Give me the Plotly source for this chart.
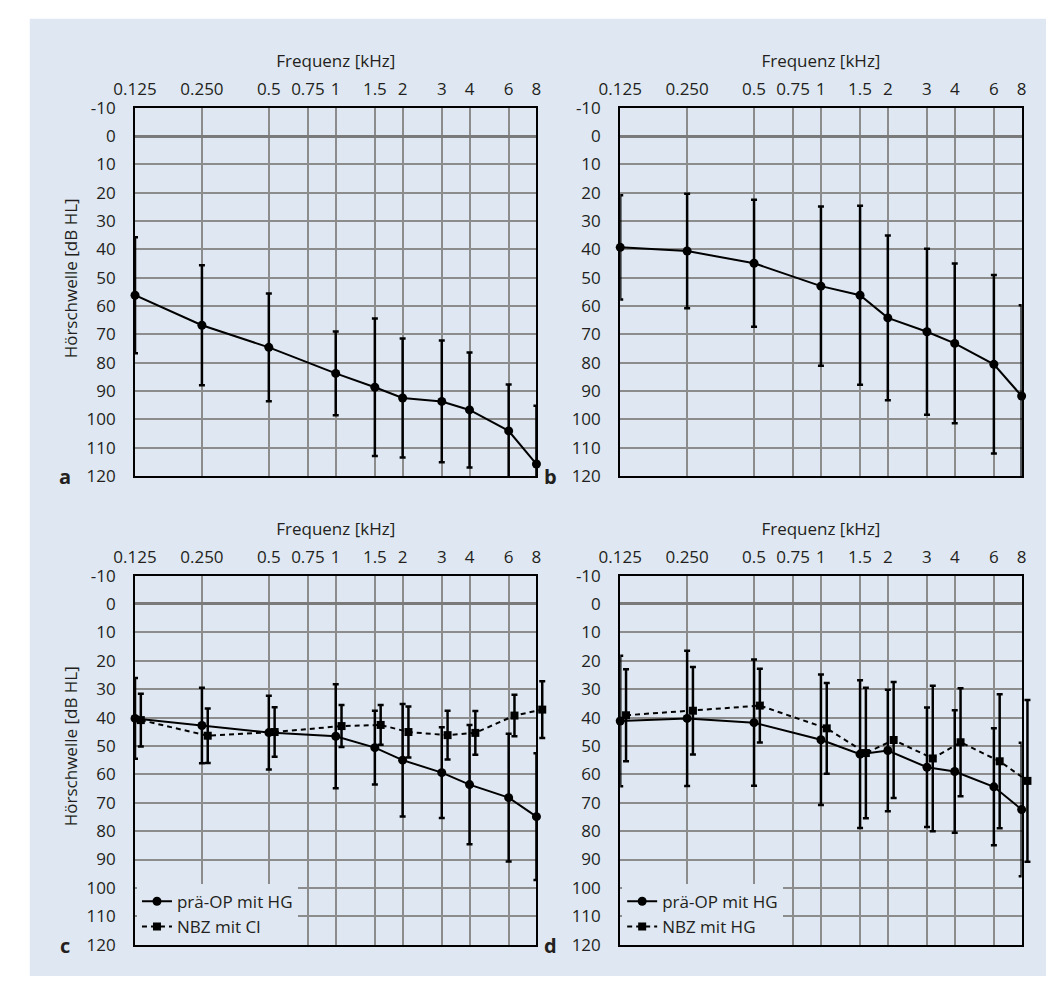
import math
import plotly.graph_objects as go

# ---------------- data ----------------
freqs = [0.125, 0.25, 0.5, 1, 1.5, 2, 3, 4, 6, 8]
tick_vals = [0.125, 0.25, 0.5, 0.75, 1, 1.5, 2, 3, 4, 6, 8]
tick_text = ["0.125", "0.250", "0.5", "0.75", "1", "1.5", "2", "3", "4", "6", "8"]
y_ticks = list(range(-10, 121, 10))
y_tick_text = [str(v) for v in y_ticks]

a_mean = [56.2, 66.8, 74.6, 83.8, 88.7, 92.5, 93.7, 96.7, 104.1, 115.8]
a_sd = [20.5, 21.2, 19.0, 14.8, 24.3, 21.0, 21.5, 20.3, 16.4, 20.6]

b_mean = [39.3, 40.6, 44.9, 53.0, 56.2, 64.2, 69.1, 73.2, 80.6, 91.8]
b_sd = [18.4, 20.2, 22.4, 28.1, 31.6, 29.1, 29.3, 28.2, 31.5, 32.1]

c_pre_mean = [40.3, 42.8, 45.3, 46.6, 50.6, 55.0, 59.4, 63.6, 68.2, 74.9]
c_pre_sd = [14.2, 13.3, 13.0, 18.3, 13.0, 19.8, 16.0, 21.0, 22.5, 22.3]
c_nbz_mean = [40.9, 46.4, 45.1, 43.0, 42.6, 45.1, 46.2, 45.4, 39.3, 37.2]
c_nbz_sd = [9.3, 9.6, 8.7, 7.4, 7.0, 9.0, 8.6, 7.7, 7.3, 10.0]

d_pre_mean = [41.2, 40.3, 41.8, 47.8, 52.9, 51.6, 57.5, 59.0, 64.4, 72.4]
d_pre_sd = [23.0, 23.8, 22.2, 23.0, 26.0, 21.4, 21.0, 21.6, 20.6, 23.5]
d_nbz_mean = [39.2, 37.6, 35.8, 43.8, 52.5, 47.9, 54.4, 48.7, 55.4, 62.3]
d_nbz_sd = [16.2, 15.4, 13.0, 16.0, 23.0, 20.4, 25.6, 19.0, 23.6, 28.5]

pre_name = "prä-OP mit HG"
c_nbz_name = "NBZ mit CI"
d_nbz_name = "NBZ mit HG"
x_title = "Frequenz [kHz]"
y_title = "Hörschwelle [dB HL]"
panel_letters = {"a": "a", "b": "b", "c": "c", "d": "d"}

# ---------------- style / geometry ----------------
W, H = 1051, 987
BG = "#dfe8f2"
FONT = "Open Sans"
FS = 17
TXT = "#231f20"
GRID = "#8c8c8c"
NBZ_SHIFT = 1.062   # small horizontal display offset of the second series
EXTRA = 16          # px of extra room right of the panel for the offset series

px_x = {"a": (116, 528), "b": (614, 1026), "c": (116, 528), "d": (614, 1026)}
px_y = {"a": (98, 475), "b": (98, 475), "c": (577, 955), "d": (577, 955)}

X0, X1 = math.log10(0.125), math.log10(8)


def xd(p, extra=0):
    return [p[0] / W, (p[1] + extra) / W]


def yd(p):
    return [1 - p[1] / H, 1 - p[0] / H]


fig = go.Figure()
ax_ids = {"a": "", "b": "2", "c": "3", "d": "4"}
overlay_ids = {"c": "5", "d": "6"}


def err(sd):
    return dict(type="data", array=sd, visible=True, color="black",
                thickness=2.5, width=3)


def add_pre(panel, mean, sd, legend=None):
    k = ax_ids[panel]
    fig.add_trace(go.Scatter(
        x=freqs, y=mean, error_y=err(sd), name=pre_name,
        mode="lines+markers",
        line=dict(color="black", width=2),
        marker=dict(symbol="circle", size=9, color="black"),
        xaxis="x" + k, yaxis="y" + k,
        showlegend=legend is not None, legend=legend or "legend",
        cliponaxis=False,
    ))


def add_nbz(panel, mean, sd, name, legend):
    k = overlay_ids[panel]
    fig.add_trace(go.Scatter(
        x=[f * NBZ_SHIFT for f in freqs], y=mean, error_y=err(sd), name=name,
        mode="lines+markers",
        line=dict(color="black", width=2, dash="5px,4px"),
        marker=dict(symbol="square", size=8, color="black"),
        xaxis="x" + k, yaxis="y" + k,
        showlegend=True, legend=legend,
        cliponaxis=False,
    ))


add_pre("a", a_mean, a_sd)
add_pre("b", b_mean, b_sd)
add_pre("c", c_pre_mean, c_pre_sd, legend="legend")
add_nbz("c", c_nbz_mean, c_nbz_sd, c_nbz_name, "legend")
add_pre("d", d_pre_mean, d_pre_sd, legend="legend2")
add_nbz("d", d_nbz_mean, d_nbz_sd, d_nbz_name, "legend2")

layout = dict(
    width=W, height=H,
    margin=dict(l=0, r=0, t=0, b=0),
    paper_bgcolor="white",
    plot_bgcolor="rgba(0,0,0,0)",
    font=dict(family=FONT, size=FS, color=TXT),
    shapes=[dict(type="rect", xref="paper", yref="paper",
                 x0=8 / W, x1=1, y0=0, y1=1 - 7 / H,
                 fillcolor=BG, line=dict(width=0), layer="below")],
    annotations=[],
    showlegend=True,
)

for panel, k in ax_ids.items():
    layout["xaxis" + k] = dict(
        type="log", domain=xd(px_x[panel]), range=[X0, X1],
        side="top", anchor="y" + k,
        tickmode="array", tickvals=tick_vals, ticktext=tick_text,
        ticks="", ticklabelstandoff=4,
        showgrid=True, gridcolor=GRID, gridwidth=1.5,
        showline=True, linecolor="black", linewidth=2, mirror=True,
        title=dict(text=x_title, standoff=5, font=dict(size=FS)),
        tickfont=dict(size=FS), fixedrange=True,
    )
    layout["yaxis" + k] = dict(
        domain=yd(px_y[panel]), anchor="x" + k, range=[120, -10],
        tickmode="array", tickvals=y_ticks, ticktext=y_tick_text,
        ticks="", ticklabelstandoff=14,
        showgrid=True, gridcolor=GRID, gridwidth=1.5,
        zeroline=True, zerolinecolor="#7a7a7a", zerolinewidth=3,
        showline=True, linecolor="black", linewidth=2, mirror=True,
        tickfont=dict(size=FS), fixedrange=True,
    )
    layout["annotations"].append(dict(
        text="<b>%s</b>" % panel_letters[panel],
        xref="paper", yref="paper",
        x=(px_x[panel][0] - 72) / W, y=1 - (px_y[panel][1] + 1) / H,
        xanchor="center", yanchor="middle", showarrow=False,
        font=dict(size=20, color=TXT)))

# invisible companion axes for the offset (second) series in c and d,
# same scale as the panel but with a little room past 8 kHz
span = px_x["c"][1] - px_x["c"][0]
for panel, k in overlay_ids.items():
    layout["xaxis" + k] = dict(
        type="log", domain=xd(px_x[panel], EXTRA),
        range=[X0, X1 + (X1 - X0) * EXTRA / span],
        anchor="y" + k, visible=False, showgrid=False, zeroline=False,
        fixedrange=True,
    )
    layout["yaxis" + k] = dict(
        domain=yd(px_y[panel]), anchor="x" + k, range=[120, -10],
        visible=False, showgrid=False, zeroline=False, fixedrange=True,
    )

for panel in ["a", "c"]:
    top = px_y[panel][0]
    layout["annotations"].append(dict(
        text=y_title, textangle=-90,
        xref="paper", yref="paper",
        x=50 / W, y=1 - (top + 175) / H,
        xanchor="center", yanchor="middle", showarrow=False,
        font=dict(size=FS, color=TXT)))

legend_common = dict(
    bgcolor=BG, borderwidth=0, font=dict(size=FS, color=TXT),
    xanchor="left", yanchor="bottom", tracegroupgap=0,
    itemwidth=30, traceorder="normal",
)
layout["legend"] = dict(legend_common, x=118 / W, y=1 - 955 / H)
layout["legend2"] = dict(legend_common, x=616 / W, y=1 - 955 / H)

fig.update_layout(**layout)
fig.write_html(
    "out.html",
    config={"displayModeBar": False},
    post_script="document.body.style.margin='0';document.body.style.overflow='hidden';",
)
